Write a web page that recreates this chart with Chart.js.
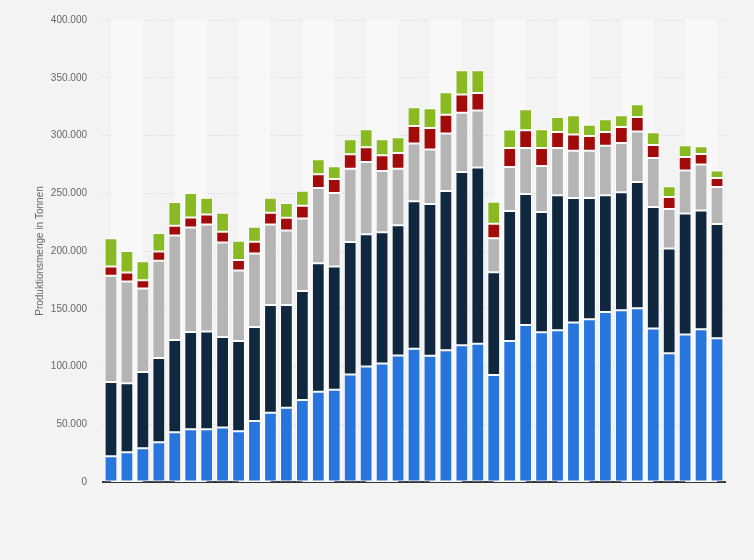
<!DOCTYPE html>
<html>
<head>
<meta charset="utf-8">
<script src="https://cdn.jsdelivr.net/npm/chart.js@4.4.1/dist/chart.umd.min.js"></script>
<style>
  html, body { margin: 0; padding: 0; background: #f3f3f3; }
  #wrap { position: relative; width: 754px; height: 560px; }
</style>
</head>
<body>
<div id="wrap"><canvas id="c" width="754" height="560"></canvas></div>
<script>
const categories = ['1','2','3','4','5','6','7','8','9','10','11','12','13','14','15','16','17','18','19','20',
  '21','22','23','24','25','26','27','28','29','30','31','32','33','34','35','36','37','38','39'];

const seriesBlue  = [22.3,25.7,29.2,34.4,43.1,45.7,45.7,47.1,44.0,52.9,59.9,64.2,71.1,78.1,79.8,93.1,100.1,102.7,109.6,115.4,
  109.3,114.0,118.3,119.7,92.6,122.0,135.9,129.6,131.3,138.2,140.9,147.2,148.7,150.4,133.0,111.4,127.8,132.2,124.4];
const seriesNavy  = [64.2,59.9,66.0,72.9,79.8,84.2,84.7,78.4,78.1,81.3,93.4,89.1,94.3,111.3,106.8,114.6,114.5,113.6,112.8,127.6,
  131.3,137.9,150.1,152.7,89.0,112.6,113.4,104.1,116.9,107.6,104.9,101.0,102.1,109.3,105.0,90.8,104.7,102.9,98.9];
const seriesGrey  = [92.0,87.9,72.3,84.2,90.5,90.5,92.6,81.9,61.0,63.6,69.7,64.5,62.8,65.1,63.6,63.6,62.5,53.0,48.9,50.0,
  47.2,49.8,51.2,49.2,29.5,38.2,39.9,39.9,41.0,41.1,41.1,43.0,42.8,43.7,42.5,34.1,37.1,39.7,32.1];
const seriesRed   = [8.1,7.8,7.2,8.1,8.4,8.7,8.7,9.2,9.2,10.2,10.1,11.0,11.0,11.9,12.1,12.4,12.7,13.6,13.6,15.3,
  18.8,16.2,15.9,15.3,12.5,16.4,15.4,15.6,13.9,13.9,12.7,11.9,13.8,12.7,11.3,10.4,11.8,9.2,7.8];
const seriesGreen = [24.5,18.6,16.5,15.9,20.6,21.1,14.4,16.5,16.5,13.0,13.0,12.7,13.0,13.0,11.0,13.0,15.6,13.8,13.6,16.2,
  17.0,19.6,21.1,19.7,19.1,16.0,18.2,16.2,13.0,16.8,9.6,11.0,10.2,11.0,11.0,9.3,10.1,6.7,6.6];

const yTicks = [0, 50000, 100000, 150000, 200000, 250000, 300000, 350000, 400000];
const yTitle = 'Produktionsmenge in Tonnen';

const toTonnes = arr => arr.map(v => v * 1000);
function fmt(v) { return String(Math.round(v)).replace(/\B(?=(\d{3})+(?!\d))/g, '.'); }

const bandPlugin = {
  id: 'bands',
  beforeDatasetsDraw(chart) {
    const {ctx, chartArea, scales} = chart;
    const x = scales.x;
    ctx.save();
    ctx.fillStyle = '#f8f8f8';
    for (let i = 0; i + 2 < categories.length; i += 4) {
      const x0 = x.getPixelForValue(i);
      const x1 = x.getPixelForValue(i + 2);
      ctx.fillRect(x0, chartArea.top, x1 - x0, chartArea.bottom - chartArea.top);
    }
    ctx.restore();
  }
};

const bgPlugin = {
  id: 'bg',
  beforeDraw(chart) {
    const {ctx, width, height} = chart;
    ctx.save();
    ctx.fillStyle = '#f3f3f3';
    ctx.fillRect(0, 0, width, height);
    ctx.restore();
  }
};

const mk = (label, data, color) => ({
  label, data: toTonnes(data), backgroundColor: color,
  borderColor: 'rgba(255,255,255,0.85)', borderWidth: 1, borderSkipped: false,
  barPercentage: 0.8, categoryPercentage: 1.0
});

Chart.defaults.font.family = '"Liberation Sans", Arial, sans-serif';

new Chart(document.getElementById('c'), {
  type: 'bar',
  data: {
    labels: categories,
    datasets: [
      mk('Serie 1', seriesBlue, '#2876dd'),
      mk('Serie 2', seriesNavy, '#0f2840'),
      mk('Serie 3', seriesGrey, '#b5b5b5'),
      mk('Serie 4', seriesRed, '#a30b0b'),
      mk('Serie 5', seriesGreen, '#8aba22')
    ]
  },
  options: {
    responsive: false,
    animation: false,
    layout: { padding: { top: 20, right: 29, bottom: 70, left: 0 } },
    plugins: { legend: { display: false }, tooltip: { enabled: false } },
    scales: {
      x: {
        stacked: true,
        grid: { display: false },
        ticks: { display: false },
        border: { display: true, color: '#333', width: 2 },
        afterFit: s => { s.paddingLeft = 0; s.paddingRight = 0; }
      },
      y: {
        stacked: true,
        min: 0, max: 400000,
        afterBuildTicks: s => { s.ticks = yTicks.map(v => ({ value: v })); },
        afterFit: s => { s.width = 103; s.paddingTop = 0; s.paddingBottom = 0; },
        grid: { color: '#d0d0d0', lineWidth: 1, drawTicks: false },
        border: { display: false, dash: [1, 2] },
        ticks: { padding: 16, color: '#666', font: { size: 10 }, callback: v => fmt(v) },
        title: { display: true, text: yTitle, color: '#666', font: { size: 10 }, padding: { top: 34, bottom: 0 } }
      }
    }
  },
  plugins: [bgPlugin, bandPlugin]
});
</script>
</body>
</html>
